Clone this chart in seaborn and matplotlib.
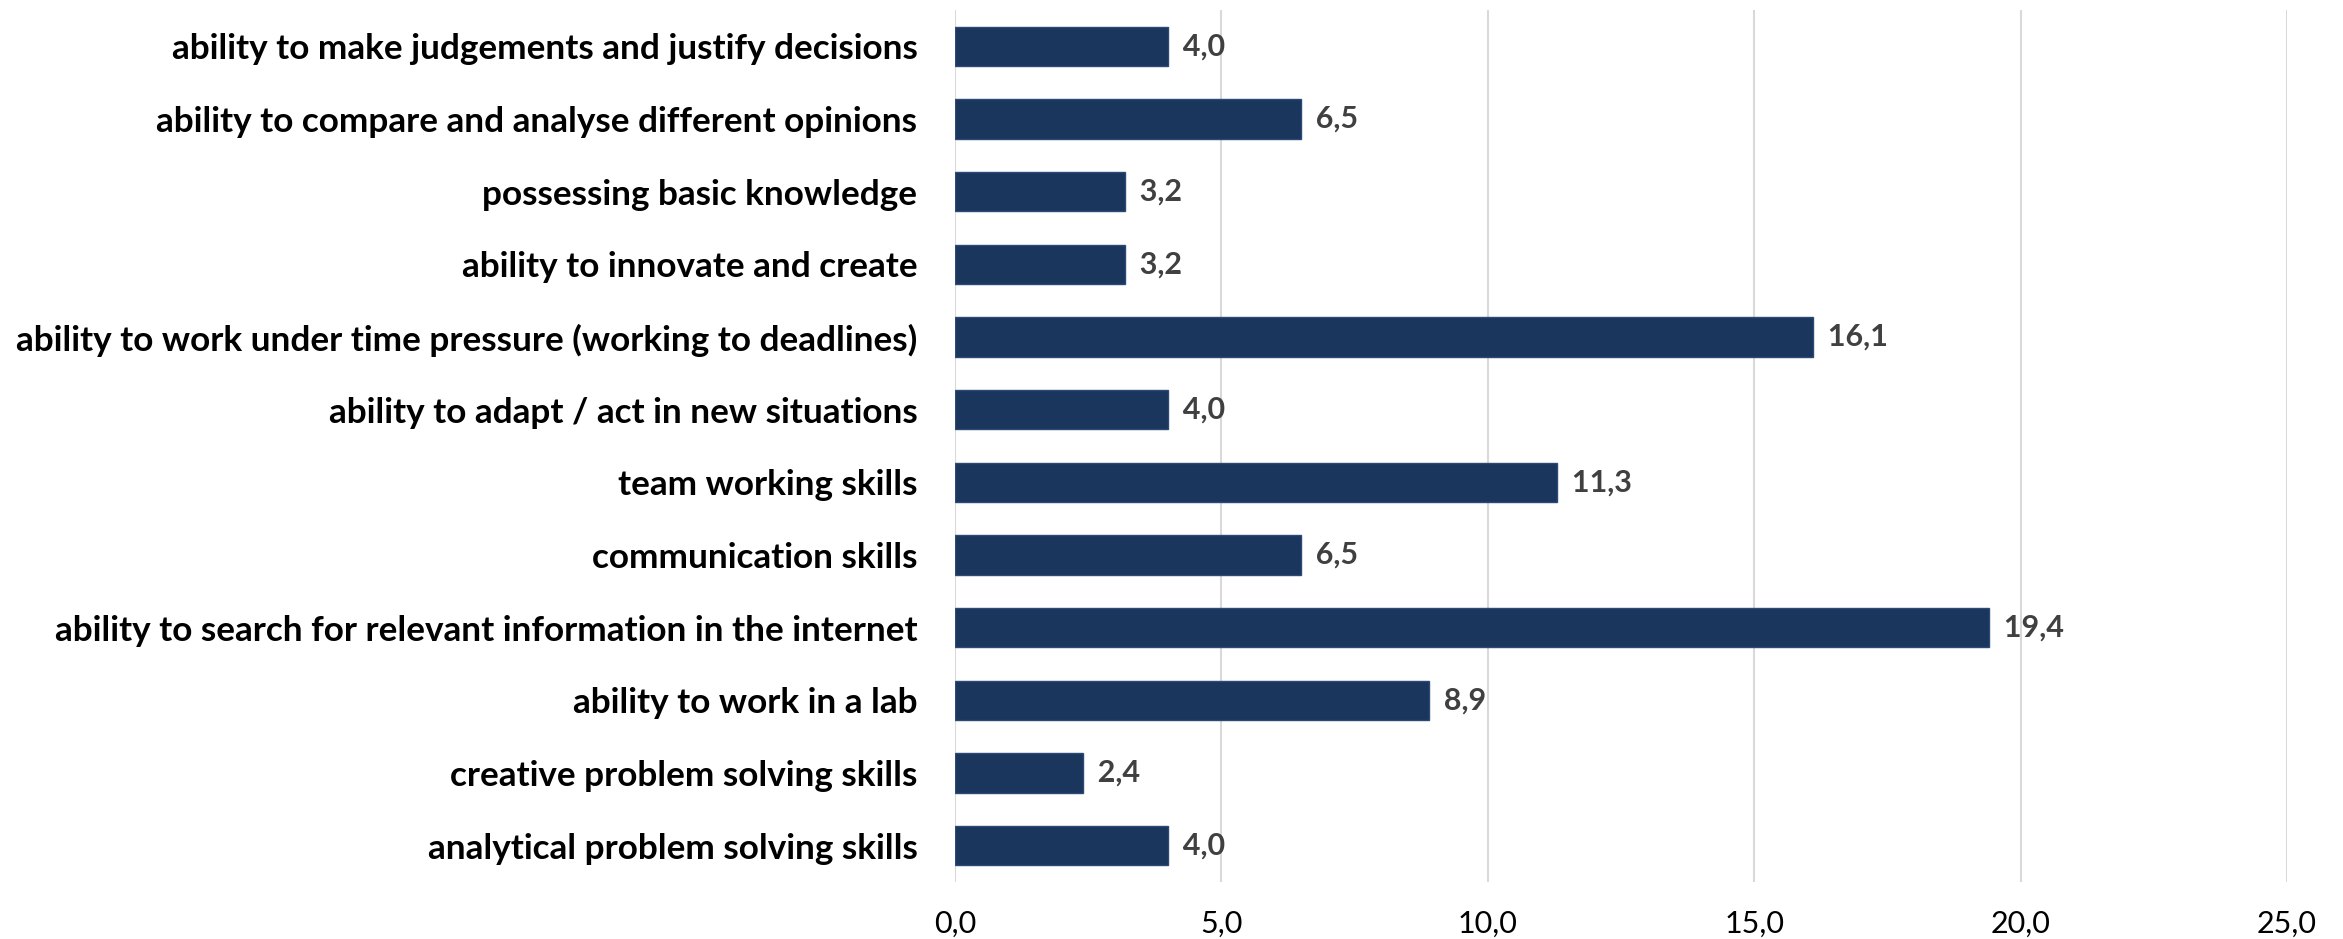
import matplotlib
matplotlib.use("Agg")
import matplotlib.pyplot as plt
import seaborn as sns
import pandas as pd

categories = [
    "ability to make judgements and justify decisions",
    "ability to compare and analyse different opinions",
    "possessing basic knowledge",
    "ability to innovate and create",
    "ability to work under time pressure (working to deadlines)",
    "ability to adapt / act in new situations",
    "team working skills",
    "communication skills",
    "ability to search for relevant information in the internet",
    "ability to work in a lab",
    "creative problem solving skills",
    "analytical problem solving skills",
]
values = [4.0, 6.5, 3.2, 3.2, 16.1, 4.0, 11.3, 6.5, 19.4, 8.9, 2.4, 4.0]
x_ticks = [0, 5, 10, 15, 20, 25]

df = pd.DataFrame({"category": categories, "value": values})

sns.set_theme(style="white")
plt.rcParams["font.family"] = ["Lato", "DejaVu Sans"]

fig = plt.figure(figsize=(23.43, 9.39), dpi=100)
ax = fig.add_axes([955 / 2343, (939 - 882) / 939, (2287 - 955) / 2343, (882 - 10) / 939])

sns.barplot(data=df, x="value", y="category", order=categories, orient="h",
            color="#1B365D", saturation=1, width=0.54, edgecolor="#2C4A75",
            linewidth=1.0, ax=ax, zorder=3)

ax.set_xlim(0, 25)
ax.set_xticks(x_ticks)
ax.set_xticklabels([f"{t:.1f}".replace(".", ",") for t in x_ticks], fontsize=22, color="black")
ax.set_ylabel("")
ax.set_xlabel("")
ax.tick_params(axis="y", length=0, pad=27, labelsize=25.3)
ax.tick_params(axis="x", length=0, pad=20)
for lbl in ax.get_yticklabels():
    lbl.set_fontweight("bold")
    lbl.set_color("black")

ax.grid(axis="x", color="#D9D9D9", linewidth=1.5, zorder=0)
ax.grid(axis="y", visible=False)
for s in ax.spines.values():
    s.set_visible(False)

for i, v in enumerate(values):
    ax.text(v, i, "  " + f"{v:.1f}".replace(".", ","), va="center", ha="left",
            fontsize=22, fontweight="bold", color="#404040",
            family=["Lato", "DejaVu Sans"])

fig.savefig("out.png", dpi=100)
